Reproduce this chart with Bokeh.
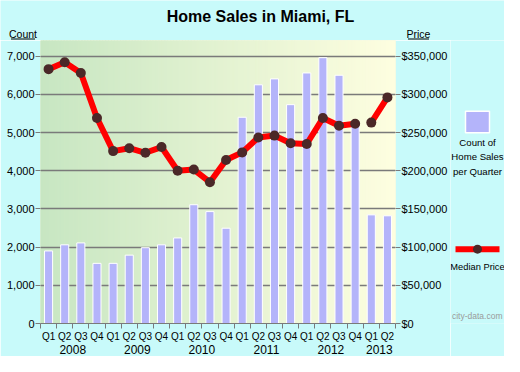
import numpy as np
from bokeh.plotting import figure
from bokeh.layouts import column, row
from bokeh.core.properties import value
from bokeh.models import Range1d, LinearAxis, FixedTicker, NumeralTickFormatter
from bokeh.embed import file_html
from bokeh.resources import INLINE

# ---------------- data ----------------
quarters = ["Q1", "Q2", "Q3", "Q4", "Q1", "Q2", "Q3", "Q4", "Q1", "Q2", "Q3", "Q4",
            "Q1", "Q2", "Q3", "Q4", "Q1", "Q2", "Q3", "Q4", "Q1", "Q2"]
quarter_years = (["2008"] * 4 + ["2009"] * 4 + ["2010"] * 4 + ["2011"] * 4 +
                 ["2012"] * 4 + ["2013"] * 2)
sales_count = [1900, 2060, 2110, 1575, 1575, 1790, 1985, 2060, 2240, 3110, 2930, 2495,
               5400, 6250, 6405, 5730, 6560, 6960, 6500, 5210, 2845, 2820]
median_price = [333000, 342000, 328000, 269000, 225700, 229500, 223500, 231000,
                200000, 201500, 185000, 214000, 224000, 243500, 246000, 236000,
                235000, 269000, 259000, 261500, 263000, 296000]
price_gap_after = 19          # line is interrupted after 2012 Q4
count_ticks = [0, 1000, 2000, 3000, 4000, 5000, 6000, 7000]
price_ticks = [0, 50000, 100000, 150000, 200000, 250000, 300000, 350000]
title_text = "Home Sales in Miami, FL"
left_caption = "Count"
right_caption = "Price"
legend_bar_lines = ["Count of", "Home Sales", "per Quarter"]
legend_line_label = "Median Price"
watermark = "city-data.com"

# ---------------- derived positions ----------------
n = len(quarters)
x = np.arange(n) + 0.5
years = list(dict.fromkeys(quarter_years))
year_centers = [float(np.mean([x[i] for i, yy in enumerate(quarter_years) if yy == yr]))
                for yr in years]
line_x, line_y = [], []
for i in range(n):
    line_x.append(x[i]); line_y.append(median_price[i])
    if i == price_gap_after:
        line_x.append(np.nan); line_y.append(np.nan)

COUNT_TOP = 7410
PRICE_PER_COUNT = 50
FONT = "Liberation Sans"
CYAN = "#c8fafa"
GRID = "#7a7a7a"
BAR = "#b4b4fa"
DOT = "#4b2828"

W, H = 504, 356
HEAD_H = 40
MAIN_W = 450
LEG_W = W - MAIN_W
BODY_H = H - HEAD_H


def blank(width, height, xr, yr):
    f = figure(width=width, height=height, x_range=Range1d(*xr), y_range=Range1d(*yr),
               output_backend="svg", toolbar_location=None,
               x_axis_location=None, y_axis_location=None, min_border=0,
               background_fill_color=CYAN, border_fill_color=CYAN, outline_line_color=None)
    f.xgrid.visible = False
    f.ygrid.visible = False
    return f


def txt(f, xs, ys, texts, size, color="black", style="normal", align="center"):
    f.text(x=xs, y=ys, text=texts, text_font=value(FONT), text_font_size=value(size),
           text_color=color, text_font_style=style, text_align=align,
           text_baseline="middle")


# ---------------- header (title + axis captions), page pixel coords ----------------
head = blank(W, HEAD_H, (0, W), (HEAD_H, 0))
txt(head, [260], [16], [title_text], "16px", style="bold")
txt(head, [22.5], [33], [left_caption], "10.5px")
txt(head, [418], [33], [right_caption], "10.5px")
head.segment(x0=[10.5, 407.5], y0=[38.5, 38.5], x1=[34.5, 428.5], y1=[38.5, 38.5],
             line_color="black", line_width=1)

# ---------------- main plot ----------------
p = figure(width=MAIN_W, height=BODY_H, x_range=Range1d(0, n), y_range=Range1d(0, COUNT_TOP),
           output_backend="svg", toolbar_location=None,
           min_border_left=40, min_border_right=52, min_border_top=0, min_border_bottom=30,
           background_fill_color="#e3f2d4", border_fill_color=CYAN, outline_line_color=None)
p.extra_y_ranges = {"price": Range1d(0, COUNT_TOP * PRICE_PER_COUNT)}

# gradient background
n_strips = 120
edges = np.linspace(0, n, n_strips + 1)
c0 = np.array([199, 230, 194]); c1 = np.array([254, 254, 224])
tt = (edges[:-1] + edges[1:]) / 2 / n
cols = ["#%02x%02x%02x" % tuple(int(round(v)) for v in (c0 + (c1 - c0) * t)) for t in tt]
bg = p.quad(left=edges[:-1], right=edges[1:], bottom=0, top=COUNT_TOP,
            fill_color=cols, line_color=cols, line_width=1)
bg.level = "image"

p.xgrid.visible = False
p.ygrid.ticker = FixedTicker(ticks=count_ticks)
p.ygrid.grid_line_color = GRID
p.ygrid.grid_line_width = 1.3

p.vbar(x=x, top=sales_count, width=0.5, fill_color=BAR, line_color="white", line_width=1)
p.line(line_x, line_y, y_range_name="price", line_color="#ff0000", line_width=6)
p.scatter(x, median_price, y_range_name="price", size=10, fill_color=DOT, line_color=None)

ya = p.yaxis[0]
ya.ticker = FixedTicker(ticks=count_ticks)
ya.formatter = NumeralTickFormatter(format="0,0")
ya.axis_line_color = None
ya.major_tick_out = 5; ya.major_tick_in = 0
ya.major_tick_line_color = GRID
ya.minor_tick_line_color = None
ya.major_label_standoff = 1
ya.major_label_text_font = FONT
ya.major_label_text_font_size = "11px"
ya.major_label_text_color = "black"

ra = LinearAxis(y_range_name="price", ticker=FixedTicker(ticks=price_ticks),
                formatter=NumeralTickFormatter(format="$0,0"))
ra.axis_line_color = None
ra.major_tick_out = 5; ra.major_tick_in = 0
ra.major_tick_line_color = GRID
ra.minor_tick_line_color = None
ra.major_label_standoff = 1
ra.major_label_text_font = FONT
ra.major_label_text_font_size = "11px"
ra.major_label_text_color = "black"
p.add_layout(ra, "right")

xa = p.xaxis[0]
xa.ticker = FixedTicker(ticks=list(x), minor_ticks=list(np.arange(n + 1)))
xa.major_label_overrides = {float(xi): q for xi, q in zip(x, quarters)}
xa.axis_line_color = GRID
xa.major_tick_out = 0; xa.major_tick_in = 0
xa.minor_tick_out = 5; xa.minor_tick_in = 0
xa.minor_tick_line_color = GRID
xa.major_label_standoff = 2
xa.major_label_text_font = FONT
xa.major_label_text_font_size = "10px"
xa.major_label_text_color = "black"

yr_axis = LinearAxis(ticker=FixedTicker(ticks=year_centers))
yr_axis.major_label_overrides = {c: yr for c, yr in zip(year_centers, years)}
yr_axis.axis_line_color = None
yr_axis.major_tick_line_color = None
yr_axis.minor_tick_line_color = None
yr_axis.major_tick_out = 0; yr_axis.major_tick_in = 0
yr_axis.major_label_standoff = 0
yr_axis.major_label_text_font = FONT
yr_axis.major_label_text_font_size = "12px"
yr_axis.major_label_text_color = "black"
p.add_layout(yr_axis, "below")

# ---------------- legend panel, page pixel coords ----------------
leg = blank(LEG_W, BODY_H, (MAIN_W, W), (H, HEAD_H))
cx = MAIN_W + LEG_W / 2
leg.rect(x=[cx], y=[131], width=24, height=24, fill_color=BAR, line_color="white", line_width=1.5)
txt(leg, [cx] * 3, [154, 170, 186], legend_bar_lines, "9.6px")
leg.line(x=[cx - 22, cx + 22], y=[273, 273], line_color="#ff0000", line_width=6)
leg.scatter(x=[cx], y=[273], size=9, fill_color=DOT, line_color=None)
txt(leg, [cx], [293], [legend_line_label], "9.3px")
txt(leg, [W - 2], [348], [watermark], "8.5px", color="#9a9a9a", align="right")

layout = column(head, row(p, leg))
open("out.html", "w").write(file_html(layout, INLINE))
